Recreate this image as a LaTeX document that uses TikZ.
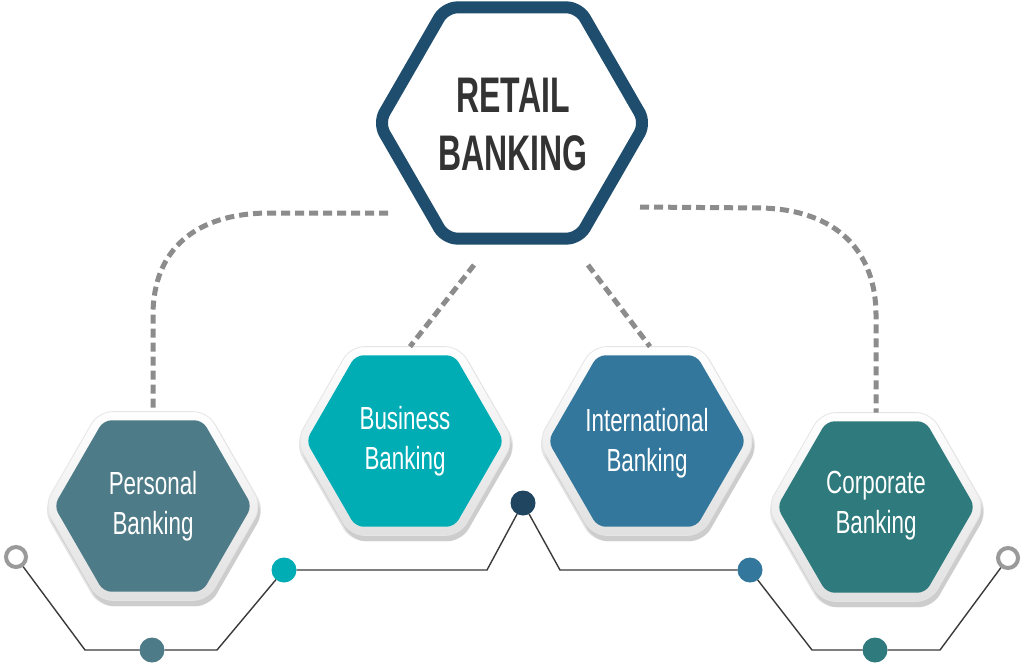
\documentclass[tikz,border=0pt]{standalone}
\usepackage{fontspec}
\setmainfont{Liberation Sans}
\newfontfamily\condbold[FakeStretch=0.64]{Liberation Sans}
\newfontfamily\condreg[FakeStretch=0.70]{Liberation Sans}
\usetikzlibrary{shapes.geometric,calc}
\definecolor{hexblue}{HTML}{1F4D6D}
\definecolor{cpers}{HTML}{4E7B88}
\definecolor{cbus}{HTML}{00ADB5}
\definecolor{cintl}{HTML}{34779C}
\definecolor{ccorp}{HTML}{2E7A7C}
\definecolor{cnavy}{HTML}{1F4561}
\definecolor{dashgray}{HTML}{8C8C8C}
\definecolor{linegray}{HTML}{3A3A3A}
\definecolor{ringgray}{HTML}{9A9A9A}
\definecolor{titlegray}{HTML}{333333}
\tikzset{
  hexshape/.style={regular polygon, regular polygon sides=6, inner sep=0pt, outer sep=0pt},
  hexouter/.style={hexshape, minimum size=218pt, rounded corners=14pt, top color=white, bottom color=black!12, draw=black!10, line width=0.8pt},
  hexshadow/.style={hexshape, minimum size=218pt, rounded corners=14pt, fill=black, fill opacity=0.10},
  hexinner/.style={hexshape, minimum size=198pt, rounded corners=8pt},
  lbl/.style={text=white, align=center, font=\condreg\fontsize{32}{40}\selectfont},
  dashline/.style={draw=dashgray, line width=5pt, dash pattern=on 9pt off 5pt},
  wire/.style={draw=linegray, line width=1.4pt},
  dot/.style={circle, minimum size=25pt, inner sep=0pt, outer sep=0pt},
  ring/.style={circle, minimum size=20pt, inner sep=0pt, draw=ringgray, line width=4pt, fill=white}
}
\begin{document}
\begin{tikzpicture}[x=1pt,y=-1pt]
\useasboundingbox (0,0) rectangle (1024,666);
\fill[white] (0,0) rectangle (1024,666);
\coordinate (cl) at (388,213);
\coordinate (cr) at (640,207);
\coordinate (cbl) at (474,265);
\coordinate (cbr) at (588,265);
% small hexes: shadows
\foreach \x/\y in {153/506, 405/441, 647/441, 876/507}{
  \node[hexshadow] at (\x+2,\y+6) {};
  \node[hexshadow, minimum size=222pt] at (\x+1,\y+4) {};
}
\node[hexouter] (pbo) at (153,506) {};
\node[hexouter] (bbo) at (405,441) {};
\node[hexouter] (ibo) at (647,441) {};
\node[hexouter] (cbo) at (876,507) {};
\node[hexinner, fill=cpers] (pb) at (153,506) {};
\node[hexinner, fill=cbus] (bb) at (405,441) {};
\node[hexinner, fill=cintl] (ib) at (647,441) {};
\node[hexinner, fill=ccorp] (cb) at (876,507) {};
\node[lbl] (pbt) at (153,506) {Personal\\Banking};
\node[lbl] (bbt) at (405,441) {Business\\Banking};
\node[lbl] (ibt) at (647,443) {International\\Banking};
\node[lbl] (cbt) at (876,506) {Corporate\\Banking};
% central hex
\node[hexshape, minimum size=267pt, draw=hexblue, line width=12pt, fill=white, rounded corners=12pt] (rb) at (512,123) {};
\node[text=titlegray, align=center, font=\condbold\bfseries\fontsize{50}{58}\selectfont] (rbt) at (513,125) {RETAIL\\BANKING};
% dashed lines
\draw[dashline] (cl) -- (270,213) .. controls (195,213) and (153,250) .. (153,315) -- (pbo.north);
\draw[dashline] (cr) -- (762,208) .. controls (835,210) and (876,250) .. (876,315) -- (cbo.north);
\draw[dashline] (cbl) -- ($(bbo.north)+(5,0)$);
\draw[dashline] (cbr) -- ($(ibo.north)+(3,0)$);
% circuit dots
\node[ring] (r1) at (16,557) {};
\node[dot, fill=cpers] (d1) at (152,650) {};
\node[dot, fill=cbus] (d2) at (284,570) {};
\node[dot, fill=cnavy] (d3) at (523,503) {};
\node[dot, fill=cintl] (d4) at (750,570) {};
\node[dot, fill=ccorp] (d5) at (875,650) {};
\node[ring] (r2) at (1008,558) {};
\draw[wire] (r1) -- (85,650) -- (d1);
\draw[wire] (d1) -- (217,650) -- (d2);
\draw[wire] (d2) -- (487,570) -- (d3);
\draw[wire] (d3) -- (560,570) -- (d4);
\draw[wire] (d4) -- (812,650) -- (d5);
\draw[wire] (d5) -- (940,650) -- (r2);
\end{tikzpicture}
\end{document}
